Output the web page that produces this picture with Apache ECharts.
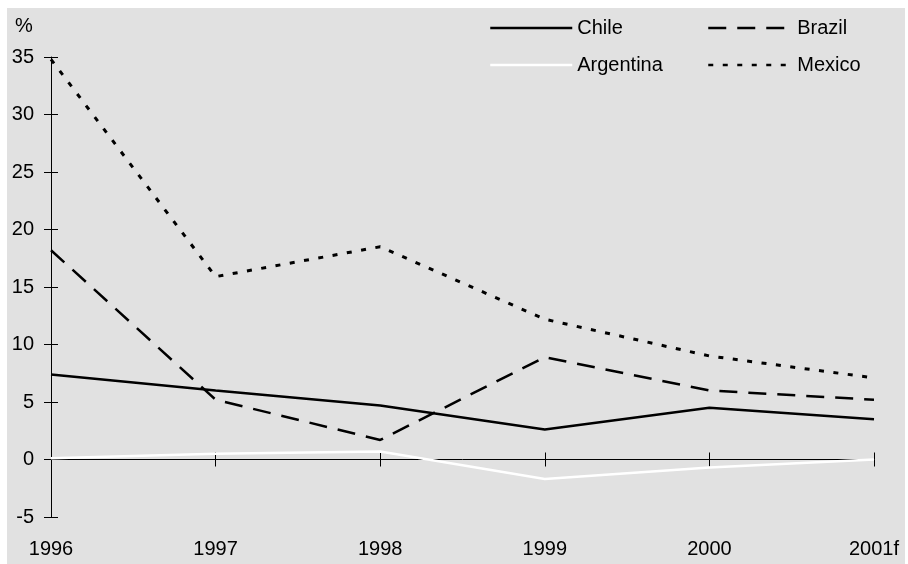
<!DOCTYPE html>
<html>
<head>
<meta charset="utf-8">
<script src="https://cdn.jsdelivr.net/npm/echarts@6/dist/echarts.min.js"></script>
<style>
  html, body { margin: 0; padding: 0; background: #ffffff; }
  #chart { width: 908px; height: 564px; }
</style>
</head>
<body>
<div id="chart"></div>
<script>
// Annual inflation, %, by country
const years = ['1996', '1997', '1998', '1999', '2000', '2001f'];
const chile     = [7.4, 6.0, 4.7, 2.6, 4.5, 3.5];
const brazil    = [18.2, 5.2, 1.7, 8.9, 6.0, 5.2];
const argentina = [0.1, 0.5, 0.7, -1.7, -0.7, 0.0];
const mexico    = [34.8, 15.9, 18.5, 12.2, 9.0, 7.1];
const yMin = -5, yMax = 35, yStep = 5;

const FONT = '"Liberation Sans", Arial, sans-serif';
const labelStyle = { color: '#000', fontFamily: FONT, fontSize: 20 };

const chart = echarts.init(document.getElementById('chart'), null, { renderer: 'canvas' });

const catAxis = (extra) => Object.assign({
  type: 'category', data: years, boundaryGap: false, gridIndex: 0,
  splitLine: { show: false }
}, extra);

const valAxis = (extra) => Object.assign({
  type: 'value', min: yMin, max: yMax, interval: yStep, gridIndex: 0,
  splitLine: { show: false }
}, extra);

// legend swatches show only the line, no marker
const legendBase = {
  orient: 'vertical', top: 13,
  itemHeight: 20, itemGap: 17,
  itemStyle: { opacity: 0 },
  lineStyle: { width: 2.5 },
  textStyle: labelStyle
};

chart.setOption({
  animation: false,
  backgroundColor: '#ffffff',
  graphic: [
    { type: 'rect', z: -10, silent: true,
      shape: { x: 7, y: 8, width: 898, height: 556 },
      style: { fill: '#e1e1e1' } },
    { type: 'text', left: 15, top: 16,
      style: { text: '%', fill: '#000', font: '20px ' + FONT } }
  ],
  grid: { left: 51, right: 34, top: 57, bottom: 47, containLabel: false },
  legend: [
    Object.assign({ left: 484, itemWidth: 82, data: ['Chile', 'Argentina'] }, legendBase),
    Object.assign({ left: 702, itemWidth: 84, data: ['Brazil', 'Mexico'] }, legendBase)
  ],
  xAxis: [
    // category labels along the bottom edge
    catAxis({ position: 'bottom', axisLine: { show: false, onZero: false },
      axisTick: { show: false }, axisLabel: Object.assign({ margin: 22 }, labelStyle) }),
    // zero line with ticks below
    catAxis({ position: 'bottom', axisLine: { show: true, onZero: true, onZeroAxisIndex: 0, lineStyle: { color: '#000', width: 1 } },
      axisTick: { show: true, inside: false, length: 7, lineStyle: { color: '#000' } }, axisLabel: { show: false } }),
    // same ticks above the zero line
    catAxis({ position: 'bottom', axisLine: { show: false, onZero: true, onZeroAxisIndex: 0 },
      axisTick: { show: true, inside: true, length: 7, lineStyle: { color: '#000' } }, axisLabel: { show: false } })
  ],
  yAxis: [
    valAxis({ position: 'left', axisLine: { show: true, onZero: false, lineStyle: { color: '#000', width: 1 } },
      axisTick: { show: true, inside: false, length: 7, lineStyle: { color: '#000' } },
      axisLabel: Object.assign({ margin: 17 }, labelStyle) }),
    valAxis({ position: 'left', axisLine: { show: false, onZero: false },
      axisTick: { show: true, inside: true, length: 7, lineStyle: { color: '#000' } },
      axisLabel: { show: false } })
  ],
  series: [
    { name: 'Chile', type: 'line', data: chile, symbol: 'none', xAxisIndex: 0, yAxisIndex: 0,
      color: '#000', lineStyle: { color: '#000', width: 2.5, type: 'solid' } },
    { name: 'Brazil', type: 'line', data: brazil, symbol: 'none', xAxisIndex: 0, yAxisIndex: 0,
      color: '#000', lineStyle: { color: '#000', width: 2.5, type: [18, 11] } },
    { name: 'Argentina', type: 'line', data: argentina, symbol: 'none', xAxisIndex: 0, yAxisIndex: 0,
      color: '#fff', lineStyle: { color: '#fff', width: 2.5, type: 'solid' } },
    { name: 'Mexico', type: 'line', data: mexico, symbol: 'none', xAxisIndex: 0, yAxisIndex: 0,
      color: '#000', lineStyle: { color: '#000', width: 3, type: [5, 9.5] } }
  ]
});
</script>
</body>
</html>
